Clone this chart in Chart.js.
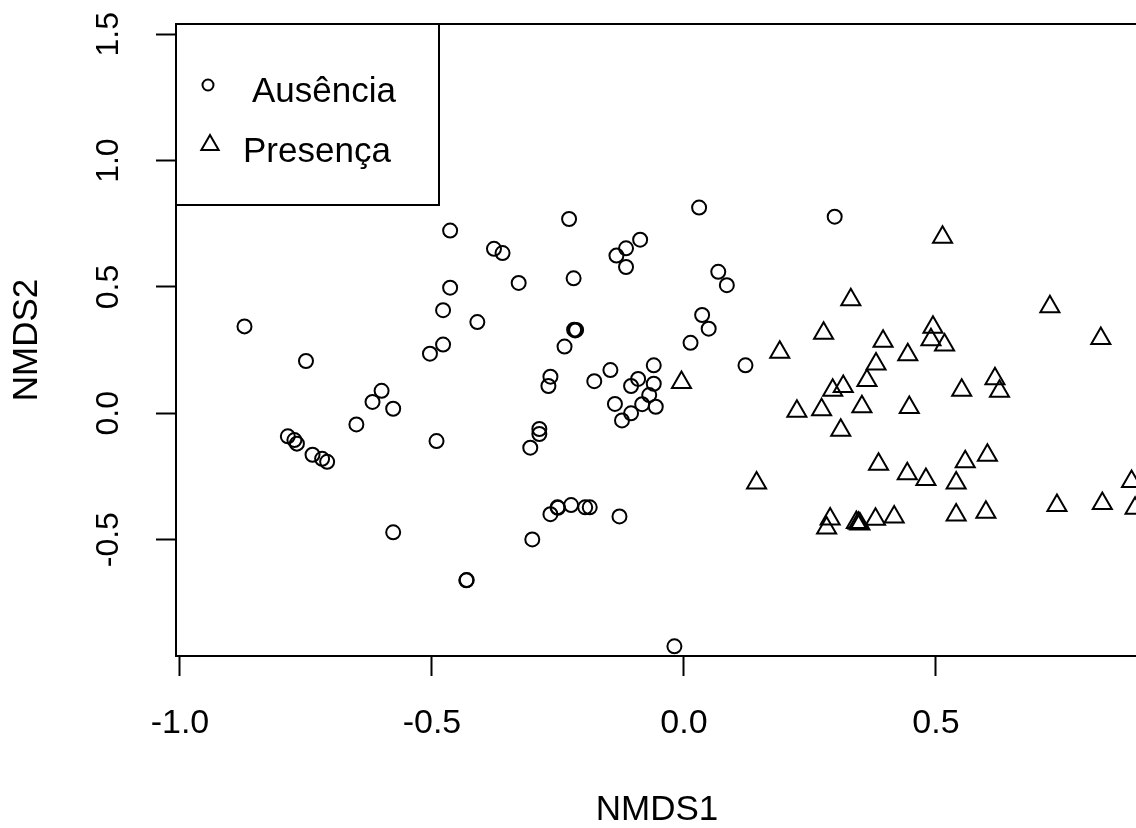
<!DOCTYPE html>
<html>
<head>
<meta charset="utf-8">
<script src="https://cdn.jsdelivr.net/npm/chart.js@4.4.1/dist/chart.umd.min.js"></script>
<style>
html,body{margin:0;padding:0;background:#fff;overflow:hidden;width:1136px;height:828px}
canvas{display:block}
</style>
</head>
<body>
<canvas id="c" width="1200" height="828"></canvas>
<script>
// ---- data ----
const seriesNames = ["Ausência", "Presença"];
const axisTitles = ["NMDS1", "NMDS2"];

const ausenciaX = [-0.872,-0.750,-0.786,-0.773,-0.768,-0.737,-0.718,-0.708,-0.650,-0.618,
  -0.600,-0.577,-0.577,-0.491,-0.504,-0.478,-0.478,-0.464,-0.464,-0.410,
  -0.432,-0.431,-0.377,-0.360,-0.328,-0.228,-0.219,-0.218,-0.216,-0.214,
  -0.237,-0.265,-0.269,-0.287,-0.287,-0.305,-0.301,-0.265,-0.250,-0.251,
  -0.224,-0.196,-0.187,-0.128,-0.019,-0.178,-0.146,-0.134,-0.115,-0.087,
  -0.115,0.030,0.068,0.085,0.036,0.049,0.013,0.122,-0.060,-0.091,
  -0.105,-0.060,-0.069,-0.083,-0.056,-0.137,-0.105,-0.123,0.299];
const ausenciaY = [0.344,0.207,-0.091,-0.106,-0.120,-0.164,-0.180,-0.192,-0.044,0.045,
  0.089,0.018,-0.471,-0.110,0.236,0.272,0.408,0.497,0.723,0.361,
  -0.661,-0.660,0.651,0.634,0.516,0.769,0.534,0.331,0.328,0.330,
  0.264,0.145,0.108,-0.062,-0.082,-0.136,-0.499,-0.399,-0.374,-0.372,
  -0.363,-0.372,-0.372,-0.408,-0.922,0.127,0.171,0.624,0.653,0.687,
  0.579,0.814,0.560,0.507,0.389,0.335,0.279,0.190,0.190,0.136,
  0.108,0.117,0.072,0.036,0.026,0.037,0.000,-0.028,0.778];

const presencaX = [-0.005,0.190,0.224,0.144,0.513,0.331,0.277,0.395,0.494,0.490,
  0.517,0.444,0.726,0.827,0.381,0.363,0.295,0.316,0.273,0.353,
  0.447,0.551,0.617,0.626,0.311,0.386,0.443,0.480,0.558,0.602,
  0.540,0.740,0.830,0.888,0.895,0.290,0.283,0.342,0.346,0.349,
  0.380,0.417,0.540,0.599];
const presencaY = [0.122,0.242,0.008,-0.276,0.697,0.449,0.317,0.285,0.341,0.291,
  0.270,0.232,0.422,0.296,0.195,0.130,0.091,0.106,0.014,0.026,
  0.023,0.091,0.137,0.087,-0.067,-0.202,-0.239,-0.262,-0.192,-0.166,
  -0.276,-0.365,-0.357,-0.270,-0.376,-0.418,-0.454,-0.432,-0.435,-0.438,
  -0.419,-0.410,-0.402,-0.392];

const xTicks = [-1.0, -0.5, 0.0, 0.5];
const yTicks = [-0.5, 0.0, 0.5, 1.0, 1.5];
const xRange = [-1.0079, 0.9008];
const yRange = [-0.9604, 1.5406];

// ---- styling ----
const FONT = '"Liberation Sans", Arial, Helvetica, sans-serif';
const INK = '#000000';

const pts = (xs, ys) => xs.map((x, i) => ({ x: x, y: ys[i] }));

const frameAndLegend = {
  id: 'frameAndLegend',
  afterDraw(chart) {
    const ctx = chart.ctx, a = chart.chartArea;
    ctx.save();
    ctx.strokeStyle = INK;
    ctx.lineWidth = 2;
    ctx.strokeRect(a.left, a.top, a.right - a.left, a.bottom - a.top);
    // legend box (top-left, inside plot)
    const bx = a.left, by = a.top, bw = 263, bh = 181;
    ctx.fillStyle = '#ffffff';
    ctx.fillRect(bx, by, bw, bh);
    ctx.strokeRect(bx, by, bw, bh);
    const items = [
      { sym: [32, 61], txt: [76, 78], r: 5.5 },
      { sym: [34, 121], txt: [67, 138], r: 10 }
    ];
    chart.data.datasets.forEach((ds, i) => {
      const it = items[i];
      ctx.strokeStyle = INK;
      ctx.fillStyle = 'rgba(0,0,0,0)';
      ctx.lineWidth = 2;
      Chart.helpers.drawPoint(ctx, { pointStyle: ds.pointStyle, rotation: 0, radius: it.r, borderWidth: 2 },
        bx + it.sym[0], by + it.sym[1]);
      ctx.fillStyle = INK;
      ctx.font = '35px ' + FONT;
      ctx.textAlign = 'left';
      ctx.textBaseline = 'alphabetic';
      ctx.fillText(ds.label, bx + it.txt[0], by + it.txt[1]);
    });
    ctx.restore();
  }
};

new Chart(document.getElementById('c'), {
  type: 'scatter',
  data: {
    datasets: [
      { label: seriesNames[0], data: pts(ausenciaX, ausenciaY), pointStyle: 'circle',
        pointRadius: 7, pointHoverRadius: 7, borderColor: INK, borderWidth: 2,
        backgroundColor: 'rgba(0,0,0,0)', clip: false },
      { label: seriesNames[1], data: pts(presencaX, presencaY), pointStyle: 'triangle',
        pointRadius: 11, pointHoverRadius: 11, borderColor: INK, borderWidth: 2,
        backgroundColor: 'rgba(0,0,0,0)', clip: false }
    ]
  },
  options: {
    responsive: false,
    animation: false,
    events: [],
    layout: { padding: { top: 24, right: 62, left: 0, bottom: 0 } },
    plugins: { legend: { display: false }, tooltip: { enabled: false } },
    scales: {
      x: {
        type: 'linear', position: 'bottom', min: xRange[0], max: xRange[1],
        afterBuildTicks: s => { s.ticks = xTicks.map(v => ({ value: v })); },
        afterFit: s => { s.height = 172; s.paddingLeft = 0; s.paddingRight = 0; },
        grid: { display: true, drawOnChartArea: false, drawTicks: true, tickLength: 20, tickWidth: 2, tickColor: INK, color: INK },
        border: { display: true, color: INK, width: 2 },
        ticks: { color: INK, font: { family: FONT, size: 34 }, padding: 27, maxRotation: 0, minRotation: 0,
          autoSkip: false, callback: v => Number(v).toFixed(1) },
        title: { display: true, text: axisTitles[0], color: INK, font: { family: FONT, size: 35, lineHeight: 1 },
          padding: { top: 0, bottom: 0 } }
      },
      y: {
        type: 'linear', position: 'left', min: yRange[0], max: yRange[1],
        afterBuildTicks: s => { s.ticks = yTicks.map(v => ({ value: v })); },
        afterFit: s => { s.width = 176; s.paddingTop = 0; s.paddingBottom = 0; },
        grid: { display: true, drawOnChartArea: false, drawTicks: true, tickLength: 20, tickWidth: 2, tickColor: INK, color: INK },
        border: { display: true, color: INK, width: 2 },
        ticks: { color: INK, font: { family: FONT, size: 32 }, padding: 19, minRotation: 90, maxRotation: 90,
          crossAlign: 'center', autoSkip: false, callback: v => Number(v).toFixed(1) },
        title: { display: true, text: axisTitles[1], color: INK, font: { family: FONT, size: 35, lineHeight: 1 },
          padding: { top: 10, bottom: 0 } }
      }
    }
  },
  plugins: [frameAndLegend]
});
</script>
</body>
</html>
